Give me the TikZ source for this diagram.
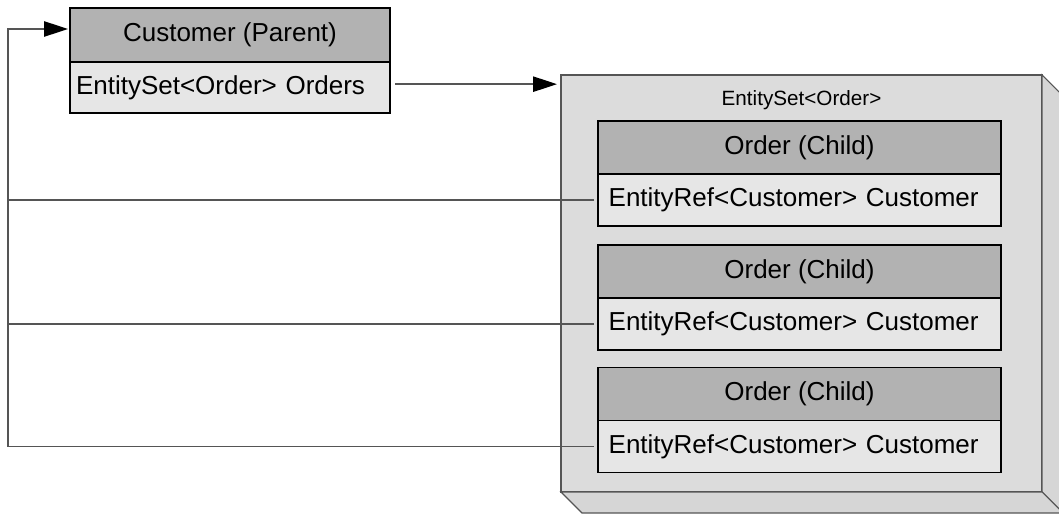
\documentclass[tikz,border=0pt]{standalone}
\usepackage{fontspec}
\setmainfont{Liberation Sans}
\usetikzlibrary{positioning,arrows.meta}
\definecolor{headgray}{HTML}{B2B2B2}
\definecolor{fieldgray}{HTML}{E6E6E6}
\definecolor{setface}{HTML}{DCDCDC}
\definecolor{setside}{HTML}{D6D6D6}
\definecolor{linkgray}{HTML}{555555}

\begin{document}
\begin{tikzpicture}[x=0.75pt, y=-0.75pt,
    entitytext/.style={font=\fontsize{19.5pt}{23pt}\selectfont},
    header/.style={entitytext, draw=black, line width=1.3pt, fill=headgray, outer sep=0pt, inner sep=0pt},
    field/.style={entitytext, draw=black, line width=1.3pt, fill=fieldgray, outer sep=0pt, inner ysep=0pt, align=left},
    setbox/.style={draw=linkgray, line width=0.8pt, fill=setface, outer sep=0pt, inner sep=0pt},
    link/.style={draw=linkgray, line width=1.2pt},
    tip/.style={-{Triangle[length=18pt, width=11.5pt, black]}}
  ]
    \useasboundingbox (0,0) rectangle (1059,514);

    % Draw the parent entity
    \node[header, minimum width=240pt, minimum height=40.5pt] (cust) at (230,35) {Customer (Parent)};
    \node[field, below=0pt of cust, minimum width=240pt, minimum height=38.25pt,
          inner xsep=4.5pt, text width=231pt] (custf) {EntitySet<Order> Orders};

    % Draw the entity set with its depth
    \node[setbox, minimum width=360.75pt, minimum height=312.75pt] (eset) at (801.5,283.5) {};
    \begin{scope}
      \clip (0,0) rectangle (1059,514);
      \draw[linkgray, line width=0.8pt, fill=setside]
        (eset.north east) -- ++(21,21) -- ++(0,417) -- (eset.south east) -- cycle;
      \draw[linkgray, line width=0.8pt, fill=setside]
        (eset.south west) -- ++(21,21) -- ++(481,0) -- (eset.south east) -- cycle;
    \end{scope}
    \node[font=\fontsize{15.5pt}{18pt}\selectfont] (etitle) at (801.5,100) {EntitySet<Order>};

    % Child entities inside the set
    \foreach \i/\y in {1/147.5, 2/271.5, 3/394} {
      \node[header, minimum width=302.25pt, minimum height=39.75pt] (ord\i) at (799.5,\y) {Order (Child)};
      \node[field, below=0pt of ord\i, minimum width=302.25pt, minimum height=39pt,
            inner xsep=8pt, text width=286.25pt] (ordf\i) {EntityRef<Customer> Customer};
    }

    % References
    \coordinate (spine) at (8,29);
    \draw[link, tip, shorten >=1.5pt, shorten <=3pt] (ordf3.west) -| (spine) -- (spine -| cust.west);
    \foreach \i in {1,2} {
      \draw[link, shorten <=3pt] (ordf\i.west) -- (ordf\i.west -| spine);
    }
    \draw[link, tip, shorten <=4pt, shorten >=3pt] ([yshift=2.5pt]custf.east) -- ([yshift=2.5pt]custf.east -| eset.west);
\end{tikzpicture}
\end{document}
